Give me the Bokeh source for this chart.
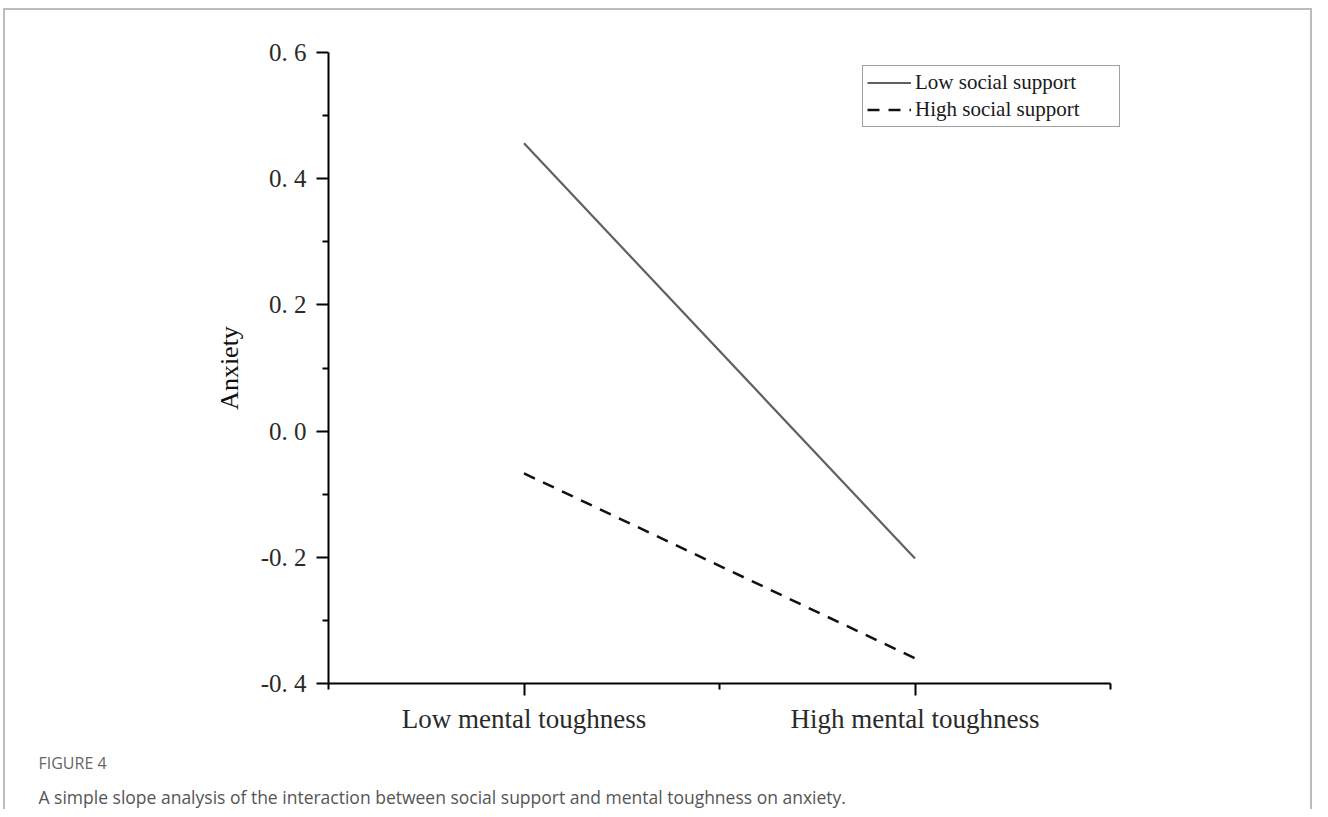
from bokeh.plotting import figure
from bokeh.models import FixedTicker, Legend, LegendItem, Title
from bokeh.embed import file_html
from bokeh.resources import INLINE

# ---- data ----
categories = ["Low mental toughness", "High mental toughness"]
x_pos = [1, 2]
series_names = ["Low social support", "High social support"]
low_support = [0.456, -0.202]
high_support = [-0.067, -0.360]
y_ticks = [-0.4, -0.2, 0.0, 0.2, 0.4, 0.6]
y_tick_labels = ["-0. 4", "-0. 2", "0. 0", "0. 2", "0. 4", "0. 6"]
y_minor = [-0.3, -0.1, 0.1, 0.3, 0.5]
x_minor = [0.5, 1.5, 2.5]
x_axis_span = (0.5, 2.5)
y_axis_span = (-0.4, 0.6)
y_title = "Anxiety"
fig_label = "FIGURE 4"
caption = "A simple slope analysis of the interaction between social support and mental toughness on anxiety."

SERIF = "Liberation Serif"

p = figure(frame_width=802, frame_height=631,
           x_range=(0.5, 2.551), y_range=y_axis_span,
           output_backend="svg", toolbar_location=None,
           min_border_left=323, min_border_right=180,
           min_border_top=42, min_border_bottom=126)
p.grid.visible = False
p.outline_line_color = None
p.background_fill_color = "white"
p.border_fill_color = "white"
p.styles = {"border-top": "2px solid #bcbcbc", "border-left": "2px solid #bcbcbc",
            "border-right": "2px solid #bcbcbc", "margin-top": "8px", "margin-left": "3px"}

for ax in (p.xaxis[0], p.yaxis[0]):
    ax.axis_line_color = "black"
    ax.axis_line_width = 2
    ax.major_tick_line_color = "black"
    ax.major_tick_line_width = 2
    ax.minor_tick_line_color = "black"
    ax.minor_tick_line_width = 2
    ax.major_tick_in = 0
    ax.major_tick_out = 12
    ax.minor_tick_in = 0
    ax.minor_tick_out = 6
    ax.major_label_text_font = SERIF
    ax.major_label_text_color = "#2a2a2a"

p.xaxis[0].bounds = x_axis_span
p.xaxis[0].ticker = FixedTicker(ticks=x_pos, minor_ticks=x_minor)
p.xaxis[0].major_label_overrides = {x: c for x, c in zip(x_pos, categories)}
p.xaxis[0].major_label_standoff = 8
p.xaxis[0].major_label_text_font_size = "27px"

p.yaxis[0].bounds = y_axis_span
p.yaxis[0].ticker = FixedTicker(ticks=y_ticks, minor_ticks=y_minor)
p.yaxis[0].major_label_overrides = {v: t for v, t in zip(y_ticks, y_tick_labels)}
p.yaxis[0].major_label_standoff = 10
p.yaxis[0].major_label_text_font_size = "25px"
p.yaxis[0].axis_label = y_title
p.yaxis[0].axis_label_text_font = SERIF
p.yaxis[0].axis_label_text_font_size = "26px"
p.yaxis[0].axis_label_text_font_style = "normal"
p.yaxis[0].axis_label_text_color = "#111111"
p.yaxis[0].axis_label_standoff = 14

r1 = p.line(x_pos, low_support, line_color="#606060", line_width=2.2)
r2 = p.line(x_pos, high_support, line_color="#111111", line_width=2.5, line_dash="12 9")

legend = Legend(items=[LegendItem(label=series_names[0], renderers=[r1]),
                       LegendItem(label=series_names[1], renderers=[r2])],
                location=(534, 556), padding=4, spacing=2, margin=0,
                glyph_width=44, glyph_height=23, label_standoff=4,
                label_width=200, label_height=23,
                label_text_font=SERIF, label_text_font_size="21px",
                label_text_color="#1a1a1a",
                border_line_color="#444444", border_line_width=1.5,
                background_fill_color="white", background_fill_alpha=1.0)
p.add_layout(legend)

t1 = Title(text=fig_label, align="left", offset=-290, standoff=26,
           text_font="Open Sans", text_font_size="16px", text_color="#666666",
           text_font_style="normal")
t2 = Title(text=caption, align="left", offset=-290, standoff=-7,
           text_font="Open Sans", text_font_size="17.5px", text_color="#555555",
           text_font_style="normal")
p.add_layout(t1, "below")
p.add_layout(t2, "below")

open("out.html", "w").write(file_html(p, INLINE))
